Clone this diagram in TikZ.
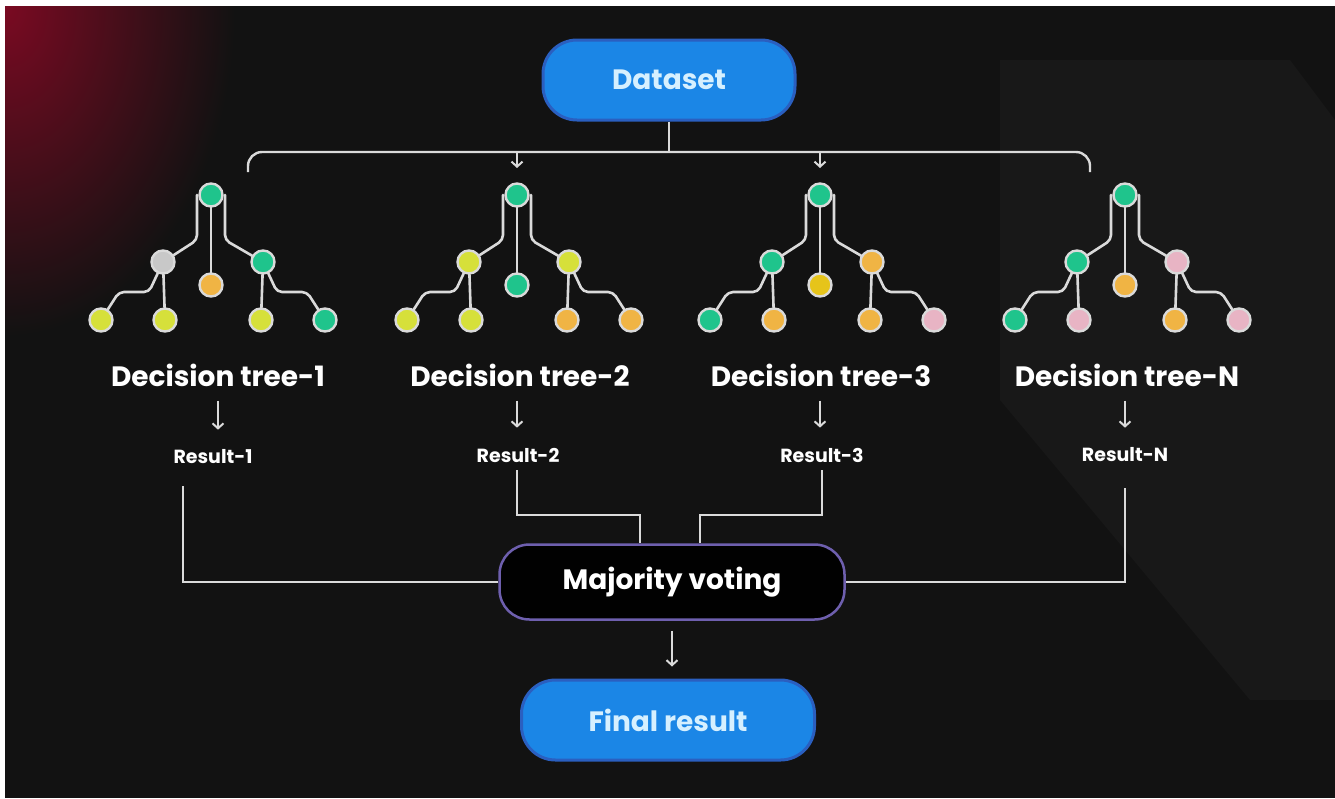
\documentclass[tikz,border=0pt]{standalone}
\usepackage{fontspec}
\setmainfont{Poppins}
\usetikzlibrary{arrows.meta,calc}
\pgfdeclarelayer{back}
\pgfdeclarelayer{bg}
\pgfsetlayers{back,bg,main}
\definecolor{bgc}{HTML}{121212}
\definecolor{bgl}{HTML}{181818}
\definecolor{redc}{HTML}{7A0A22}
\definecolor{gr}{HTML}{1FC48C}
\definecolor{ye}{HTML}{D6E03A}
\definecolor{og}{HTML}{F0B444}
\definecolor{gd}{HTML}{E6C41A}
\definecolor{gy}{HTML}{C8C8C8}
\definecolor{pk}{HTML}{E8B4C4}
\definecolor{linec}{HTML}{DADADA}
\definecolor{blu}{HTML}{1B86E6}
\definecolor{bluedge}{HTML}{2A5FC0}
\definecolor{bluetxt}{HTML}{D6F0FF}
\definecolor{purp}{HTML}{6E5FAE}
\tikzset{
  tn/.style={circle, minimum size=23pt, inner sep=0pt, draw=linec, line width=2.4pt, fill=#1},
  tl/.style={draw=linec, line width=2.6pt, rounded corners=5pt, line cap=round},
  conn/.style={draw=linec, line width=2.4pt},
  sarr/.style={draw=linec, line width=2pt, -{Straight Barb[length=5pt,width=11pt,line width=2pt]}},
  lbl/.style={text=white, font=\fontsize{28}{32}\selectfont\bfseries, inner sep=0pt},
  res/.style={text=white, font=\fontsize{19}{22}\selectfont\bfseries, inner sep=0pt},
  pill/.style={rounded corners=34pt, fill=blu, draw=bluedge, line width=3pt, text=bluetxt,
    font=\fontsize{28}{32}\selectfont\bfseries, inner sep=0pt},
  mvote/.style={rounded corners=30pt, fill=black!95!bgc, draw=purp, line width=2.5pt, text=white,
    font=\fontsize{28}{32}\selectfont\bfseries, inner sep=0pt, minimum width=345pt, minimum height=75pt}
}
\newcommand\dtree[9]{%
  \node[tn=gr] (#1r) at (#2,195) {};
  \node[tn=#3] (#1a) at ({#2-48},262) {};
  \node[tn=#4] (#1c) at (#2,285) {};
  \node[tn=#5] (#1b) at ({#2+52},262) {};
  \node[tn=#6] (#1l1) at ({#2-110},320) {};
  \node[tn=#7] (#1l2) at ({#2-46},320) {};
  \node[tn=#8] (#1l3) at ({#2+50},320) {};
  \node[tn=#9] (#1l4) at ({#2+114},320) {};
  \begin{pgfonlayer}{bg}
  \draw[tl] ([xshift=-14pt]#1r.center) -- ([xshift=-14pt,yshift=-45pt]#1r.center) -- (#1a.center);
  \draw[tl] ([xshift=14pt]#1r.center) -- ([xshift=14pt,yshift=-45pt]#1r.center) -- (#1b.center);
  \draw[tl] (#1r.center) -- (#1c.center);
  \draw[tl] (#1a.center) -- (#1l2.center);
  \draw[tl] (#1a.center) -- ([xshift=-14pt,yshift=-30pt]#1a.center) -- ([xshift=-44pt,yshift=-30pt]#1a.center) -- (#1l1.center);
  \draw[tl] (#1b.center) -- (#1l3.center);
  \draw[tl] (#1b.center) -- ([xshift=14pt,yshift=-30pt]#1b.center) -- ([xshift=44pt,yshift=-30pt]#1b.center) -- (#1l4.center);
  \end{pgfonlayer}
}
\begin{document}
\begin{tikzpicture}[x=1pt,y=-1pt]
\useasboundingbox (0,0) rectangle (1335,798);
% background
\begin{pgfonlayer}{back}
\fill[white] (0,0) rectangle (1335,798);
\fill[bgc] (5,6) rectangle (1335,798);
\fill[bgl] (1000,60) -- (1290,60) -- (1335,120) -- (1335,700) -- (1250,700) -- (1000,400) -- cycle;
\begin{scope}
\clip (5,6) rectangle (1335,798);
\shade[inner color=redc, outer color=bgc] (5,6) ellipse (230 and 330);
\end{scope}
\end{pgfonlayer}

% top
\node[pill, minimum width=252pt, minimum height=80pt] (ds) at (669,80) {Dataset};
\coordinate (bus) at (669,152);
\draw[conn] (ds.south) -- (bus);
\draw[conn, rounded corners=14pt] (248,172) -- (248,152) -- (1090,152) -- (1090,172);
\coordinate (tk2) at (517,152);
\coordinate (tk3) at (820,152);
\draw[sarr, line width=1.6pt] (tk2) -- ++(0,16);
\draw[sarr, line width=1.6pt] (tk3) -- ++(0,16);

% trees
\dtree{a}{211}{gy}{og}{gr}{ye}{ye}{ye}{gr}
\dtree{b}{517}{ye}{gr}{ye}{ye}{ye}{og}{og}
\dtree{c}{820}{gr}{gd}{og}{gr}{og}{og}{pk}
\dtree{d}{1125}{gr}{og}{pk}{gr}{pk}{og}{pk}

% labels
\node[lbl] (dt1) at (218,375) {Decision tree-1};
\node[lbl] (dt2) at (520,375) {Decision tree-2};
\node[lbl] (dt3) at (821,375) {Decision tree-3};
\node[lbl] (dt4) at (1127,375) {Decision tree-N};

\node[res] (r1) at (213,457) {Result-1};
\node[res] (r2) at (518,455) {Result-2};
\node[res] (r3) at (822,455) {Result-3};
\node[res] (r4) at (1125,455) {Result-N};

\draw[sarr] ([yshift=-14pt]dt1.south -| 218,0) -- ([yshift=20pt]r1.north -| 218,0);
\draw[sarr] ([yshift=-14pt]dt2.south -| 517,0) -- ([yshift=20pt]r2.north -| 517,0);
\draw[sarr] ([yshift=-14pt]dt3.south -| 820,0) -- ([yshift=20pt]r3.north -| 820,0);
\draw[sarr] ([yshift=-14pt]dt4.south -| 1125,0) -- ([yshift=20pt]r4.north -| 1125,0);

% majority voting
\node[mvote] (mv) at (672,582) {Majority voting};
\draw[conn] ([xshift=-30pt,yshift=-22pt]r1.south) |- (mv.west);
\draw[conn] ([xshift=-1pt,yshift=-8pt]r2.south) |- ($(mv.north)+(-32,-28)$) -- ([xshift=-32pt]mv.north);
\draw[conn] ([yshift=-8pt]r3.south) |- ($(mv.north)+(28,-28)$) -- ([xshift=28pt]mv.north);
\draw[conn] ([yshift=-26pt]r4.south) |- (mv.east);

% final
\node[pill, minimum width=293pt, minimum height=80pt] (fr) at (668,720) {Final result};
\draw[sarr] ([yshift=-10pt]mv.south) -- ($(mv.south |- fr.north)+(0,-12)$);
\end{tikzpicture}
\end{document}
